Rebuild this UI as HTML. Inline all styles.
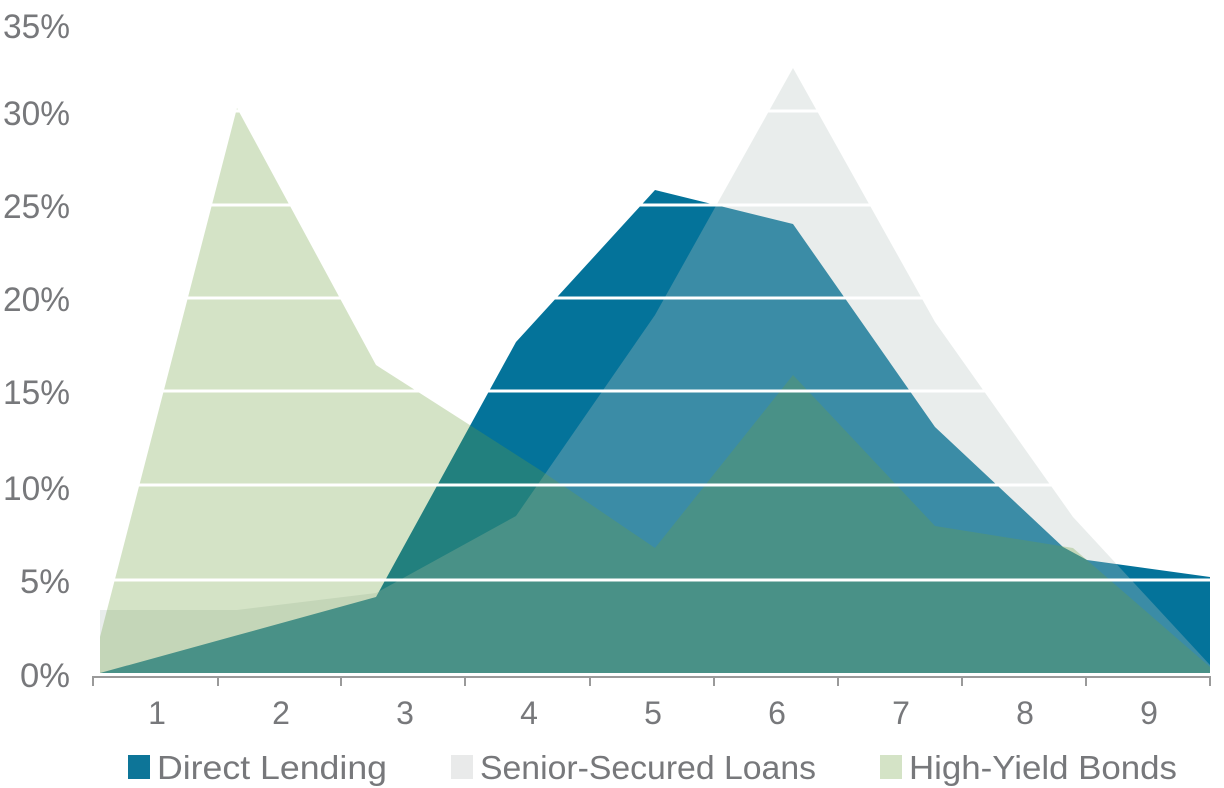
<!DOCTYPE html>
<html><head><style>body{margin:0;background:#fff}svg{display:block}</style></head><body>
<svg width="1224" height="788" viewBox="0 0 1224 788" xmlns="http://www.w3.org/2000/svg" font-family="'Liberation Sans', sans-serif" fill="#77787b">
<polygon fill="#04739a" points="100,673 376,597 516,342 655,190 793,224 935,427 1063,547 1087,560 1210,577 1210,673"/>
<polygon fill="#b8c4c2" fill-opacity="0.31" points="100,673 100,610 237,610 376,593 516,516 655,315 793,68 935,322 1073,517 1210,665 1210,673"/>
<polygon fill="#6da03e" fill-opacity="0.295" points="100,673 100,637 237,108 376,365 540,470 655,548 793,375 935,526 1073,548 1210,667 1210,673"/>
<g stroke="#fff" stroke-width="3">
<line x1="93" x2="1212" y1="580" y2="580"/><line x1="93" x2="1212" y1="485" y2="485"/>
<line x1="93" x2="1212" y1="391" y2="391"/><line x1="93" x2="1212" y1="298" y2="298"/>
<line x1="93" x2="1212" y1="205" y2="205"/><line x1="93" x2="1212" y1="111" y2="111"/>
</g>
<g stroke="#9a9a9a" stroke-width="2">
<line x1="92" x2="1211" y1="677" y2="677"/>
<line x1="93" x2="93" y1="677" y2="686"/><line x1="218" x2="218" y1="677" y2="686"/><line x1="341" x2="341" y1="677" y2="686"/><line x1="465" x2="465" y1="677" y2="686"/><line x1="590" x2="590" y1="677" y2="686"/><line x1="714" x2="714" y1="677" y2="686"/><line x1="838" x2="838" y1="677" y2="686"/><line x1="962" x2="962" y1="677" y2="686"/><line x1="1086" x2="1086" y1="677" y2="686"/><line x1="1210" x2="1210" y1="677" y2="686"/>
</g>
<g font-size="34" text-anchor="end">
<text x="70" y="38" textLength="67" lengthAdjust="spacingAndGlyphs">35%</text>
<text x="70" y="125" textLength="67" lengthAdjust="spacingAndGlyphs">30%</text>
<text x="70" y="218" textLength="67" lengthAdjust="spacingAndGlyphs">25%</text>
<text x="70" y="311" textLength="67" lengthAdjust="spacingAndGlyphs">20%</text>
<text x="70" y="404" textLength="67" lengthAdjust="spacingAndGlyphs">15%</text>
<text x="70" y="500" textLength="67" lengthAdjust="spacingAndGlyphs">10%</text>
<text x="70" y="593" textLength="50" lengthAdjust="spacingAndGlyphs">5%</text>
<text x="70" y="687" textLength="50" lengthAdjust="spacingAndGlyphs">0%</text>
</g>
<g font-size="32" text-anchor="middle">
<text x="157" y="724">1</text><text x="281" y="724">2</text><text x="405" y="724">3</text><text x="529" y="724">4</text><text x="653" y="724">5</text><text x="777" y="724">6</text><text x="901" y="724">7</text><text x="1025" y="724">8</text><text x="1149" y="724">9</text>
</g>
<rect x="128" y="755" width="22" height="24" fill="#0d7598"/>
<rect x="451" y="755" width="22" height="24" fill="#e9eaea"/>
<rect x="880" y="755" width="22" height="24" fill="#d4e3c6"/>
<g font-size="33">
<text x="157" y="779" textLength="230" lengthAdjust="spacingAndGlyphs">Direct Lending</text>
<text x="480" y="779" textLength="336" lengthAdjust="spacingAndGlyphs">Senior-Secured Loans</text>
<text x="909" y="779" textLength="268" lengthAdjust="spacingAndGlyphs">High-Yield Bonds</text>
</g>
</svg>
</body></html>
